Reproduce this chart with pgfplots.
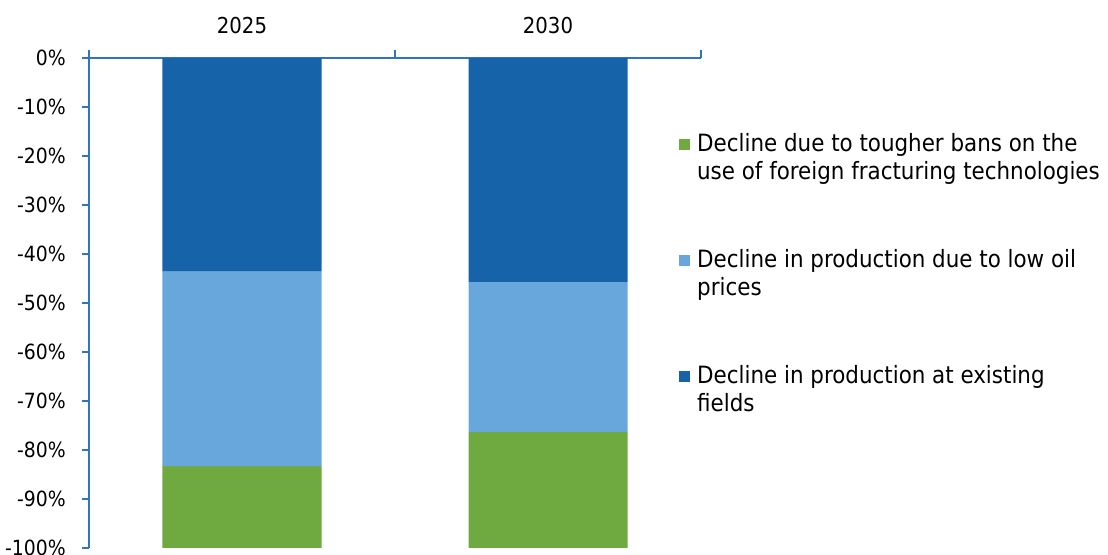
\documentclass[border=0pt]{standalone}
\usepackage{fontspec}
\setmainfont{DejaVu Sans Condensed}
\usepackage{pgfplots}
\pgfplotsset{compat=1.18}
\definecolor{dblue}{RGB}{23,99,170}
\definecolor{lblue}{RGB}{104,167,220}
\definecolor{lgreen}{RGB}{111,170,65}
\definecolor{axblue}{RGB}{47,117,192}
\begin{document}
\begin{tikzpicture}
\path[use as bounding box] (-89bp,-7bp) rectangle (1019bp,548bp);
\begin{axis}[
  at={(0,0)}, anchor=south west,
  width=612bp, height=490bp, scale only axis,
  ybar stacked, bar width=159bp,
  xmin=-0.5, xmax=1.5, ymin=-100, ymax=0,
  axis x line=top, axis y line=left,
  axis line style={axblue, line width=1.2bp, -},
  xtick={0,1}, xticklabels={2025,2030},
  minor xtick={-0.5,0.5,1.5},
  ytick={-100,-90,...,0},
  yticklabel={\pgfmathprintnumber{\tick}\%},
  /pgf/number format/assume math mode=true,
  tick align=outside,
  major tick length=7bp, minor tick length=8bp,
  x tick style={draw=none},
  minor x tick style={draw=axblue, line width=1.2bp},
  y tick style={draw=axblue, line width=1.2bp},
  xticklabel style={font=\fontsize{22}{26}\selectfont, inner sep=0pt, yshift=17bp},
  yticklabel style={font=\fontsize{21}{25}\selectfont, inner sep=0pt, xshift=-16bp},
  legend style={draw=none, fill=none, at={(0.964,0.854)}, anchor=north west,
    font=\fontsize{23.9}{28}\selectfont, row sep=91bp, inner sep=0pt,
    cells={anchor=west}},
  legend cell align=left,
  legend image code/.code={\fill[#1] (0bp,-7.5bp) rectangle (11bp,3.5bp);},
  reverse legend,
  every axis plot/.append style={draw=none},
]
\addplot[fill=dblue] coordinates {(0,-43.5) (1,-45.7)};
\addplot[fill=lblue] coordinates {(0,-39.8) (1,-30.6)};
\addplot[fill=lgreen] coordinates {(0,-16.7) (1,-23.7)};
\legend{{\begin{tabular}[t]{@{\hspace{5bp}}l@{}}Decline in production at existing\\fields\end{tabular}},
        {\begin{tabular}[t]{@{\hspace{5bp}}l@{}}Decline in production due to low oil\\prices\end{tabular}},
        {\begin{tabular}[t]{@{\hspace{5bp}}l@{}}Decline due to tougher bans on the\\use of foreign fracturing technologies\end{tabular}}}
\end{axis}
\end{tikzpicture}
\end{document}
